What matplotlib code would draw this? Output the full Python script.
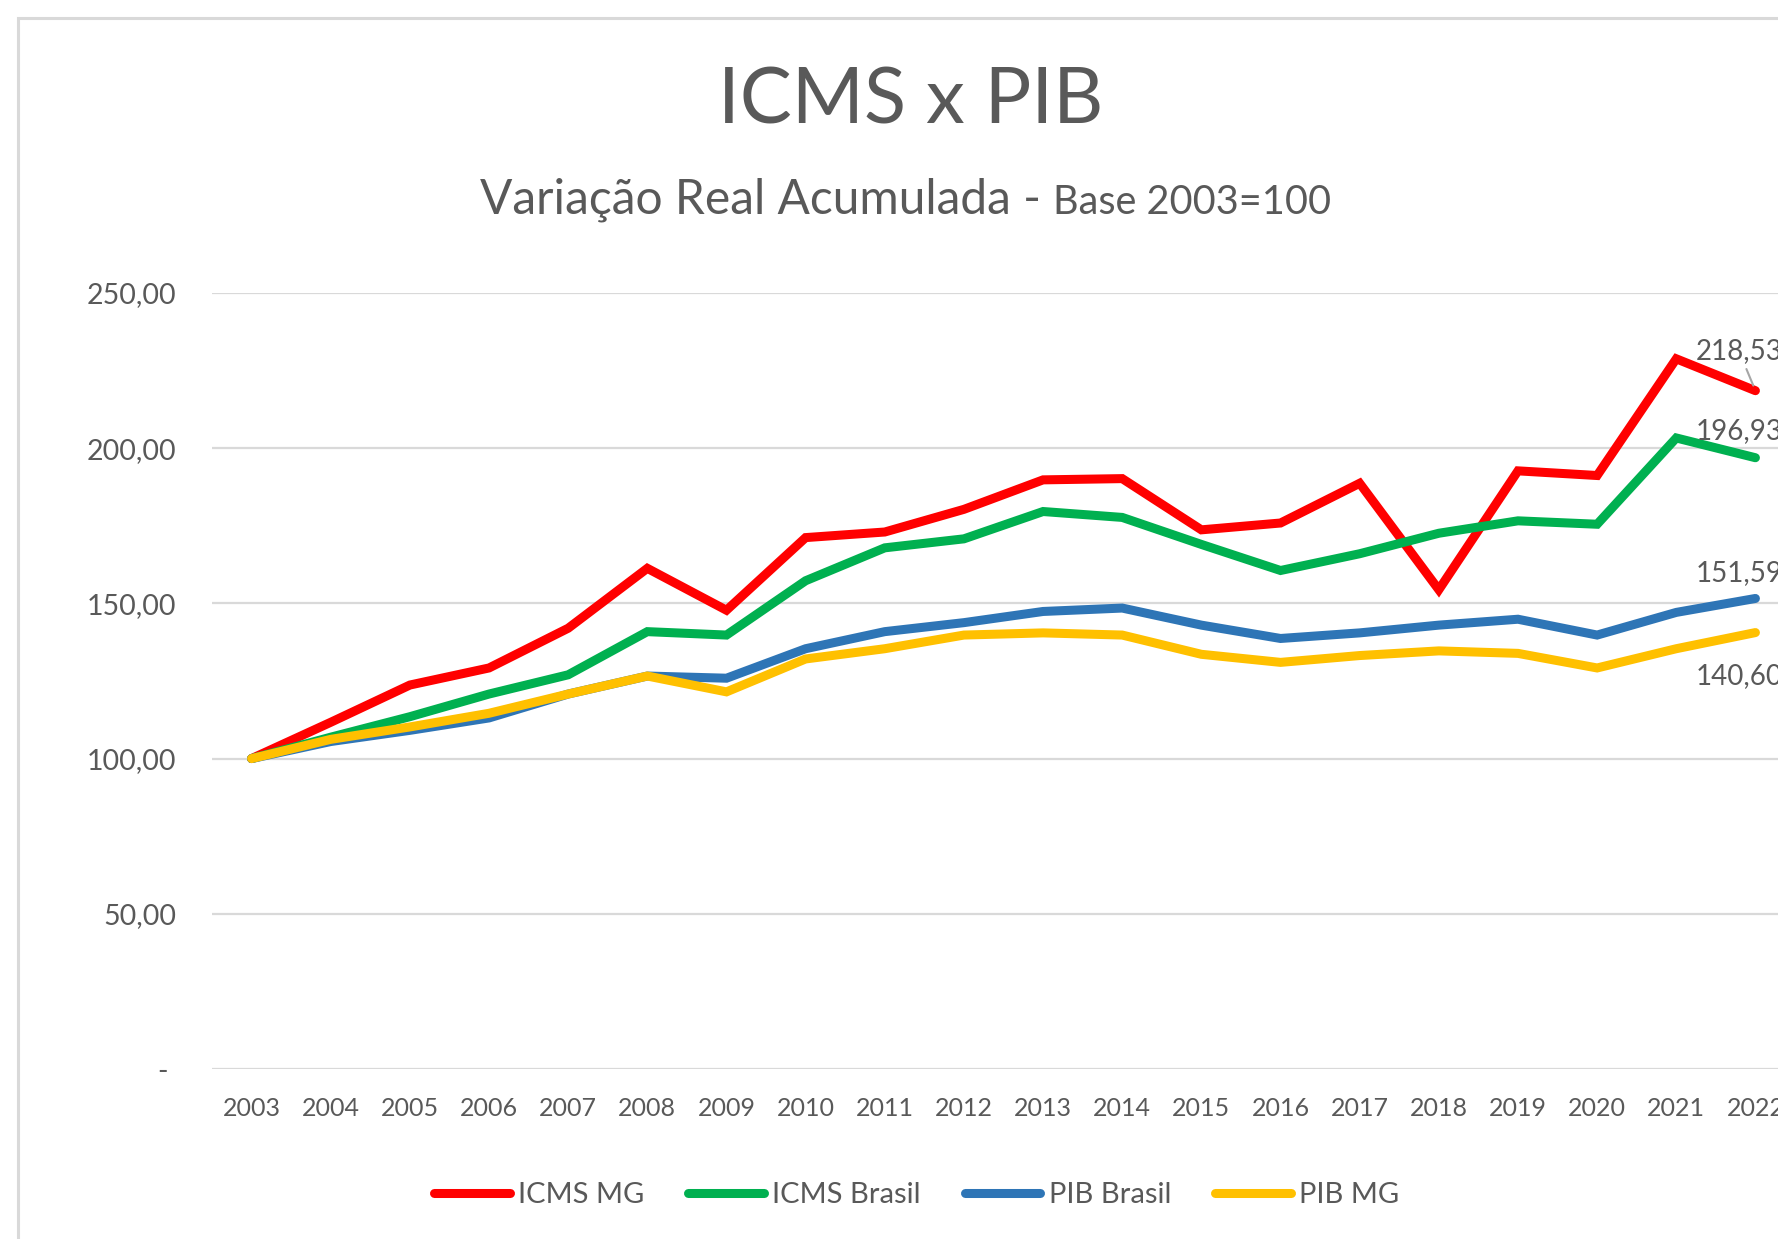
import matplotlib
matplotlib.use("Agg")
import matplotlib.pyplot as plt
from matplotlib.patches import Rectangle
from matplotlib.ticker import FuncFormatter, MultipleLocator

years = list(range(2003, 2023))
icms_mg = [100, 111.7, 123.7, 129.2, 142.0, 161.3, 147.8, 171.2, 173.0, 180.3,
           189.8, 190.2, 173.7, 175.9, 188.7, 154.4, 192.7, 191.2, 228.8, 218.53]
icms_br = [100, 106.9, 113.5, 120.8, 127.0, 140.9, 139.8, 157.3, 167.9, 170.8,
           179.6, 177.7, 169.0, 160.6, 166.0, 172.6, 176.6, 175.5, 203.3, 196.93]
pib_br = [100, 105.5, 109.1, 113.1, 120.8, 126.6, 125.9, 135.4, 140.9, 143.8,
          147.4, 148.5, 143.0, 138.7, 140.5, 143.0, 144.9, 139.8, 147.1, 151.59]
pib_mg = [100, 106.2, 110.2, 114.6, 120.8, 126.6, 121.5, 132.1, 135.4, 139.8,
          140.5, 139.8, 133.6, 131.0, 133.2, 134.7, 133.9, 129.2, 135.4, 140.60]

series_names = ["ICMS MG", "ICMS Brasil", "PIB Brasil", "PIB MG"]
series_values = [icms_mg, icms_br, pib_br, pib_mg]
colors = ["#FF0000", "#00B050", "#2E75B6", "#FFC000"]

TXT = "#595959"
GRID = "#D9D9D9"
plt.rcParams['font.family'] = ['Lato', 'DejaVu Sans']

fig = plt.figure(figsize=(17.78, 12.39), dpi=100)
# chart border (clipped by figure edges)
fig.patches.append(Rectangle((18/1778, -0.05), 1.2, 1 - 18/1239 + 0.05,
                             transform=fig.transFigure, fill=False,
                             edgecolor=GRID, linewidth=2.2))

ax = fig.add_axes([212/1778, 1 - 1069/1239, (1795-212)/1778, (1069-293)/1239])
ax.set_clip_on(False)

lines = []
for name, vals, c in zip(series_names, series_values, colors):
    ln, = ax.plot(years, vals, color=c, lw=6.5, solid_capstyle='round',
                  solid_joinstyle='miter', label=name, zorder=3)
    lines.append(ln)

ax.set_xlim(2002.5, 2022.5)
ax.set_ylim(0, 250)
ax.yaxis.set_major_locator(MultipleLocator(50))
ax.set_xticks(years)
ax.set_xticklabels([str(y) for y in years])

def yfmt(v, pos):
    if abs(v) < 1e-9:
        return "- "
    return f"{v:.2f}".replace(".", ",")
ax.yaxis.set_major_formatter(FuncFormatter(yfmt))

ax.grid(axis='y', color=GRID, lw=1.6)
ax.set_axisbelow(True)
for s in ax.spines.values():
    s.set_visible(False)
ax.tick_params(axis='both', length=0, colors=TXT)
ax.tick_params(axis='y', pad=26, labelsize=20.5)
ax.tick_params(axis='x', pad=20, labelsize=18)

# data labels at 2022
offsets = [(-60, 40), (-60, 27), (-60, 25), (-60, -43)]
for vals, off, i in zip(series_values, offsets, range(4)):
    txt = f"{vals[-1]:.2f}".replace(".", ",")
    kw = {}
    if i == 0:
        kw['arrowprops'] = dict(arrowstyle='-', color='#A6A6A6', lw=1.5,
                                shrinkA=2, shrinkB=4)
    ax.annotate(txt, xy=(years[-1], vals[-1]), xytext=off,
                textcoords='offset pixels', ha='left', va='center',
                fontsize=20, color=TXT, annotation_clip=False, **kw)

fig.text(0.512, 1 - 102/1239, "ICMS x PIB", ha='center', va='center',
         fontsize=56, color=TXT)
sub_y = 1 - 214/1239
t1 = fig.text(480/1778, sub_y, "Variação Real Acumulada - ", ha='left',
              va='baseline', fontsize=34.5, color=TXT)
fig.canvas.draw()
bb = t1.get_window_extent()
fig.text(bb.x1/1778, sub_y, "Base 2003=100", ha='left', va='baseline',
         fontsize=28.5, color=TXT)

leg = fig.legend(handles=lines, labels=series_names, loc='center',
                 bbox_to_anchor=(0.5155, 1 - 1195/1239), ncol=4, frameon=False,
                 fontsize=21, handlelength=2.6, handletextpad=0.28,
                 columnspacing=1.5, labelcolor=TXT)

fig.savefig("out.png", dpi=100)
